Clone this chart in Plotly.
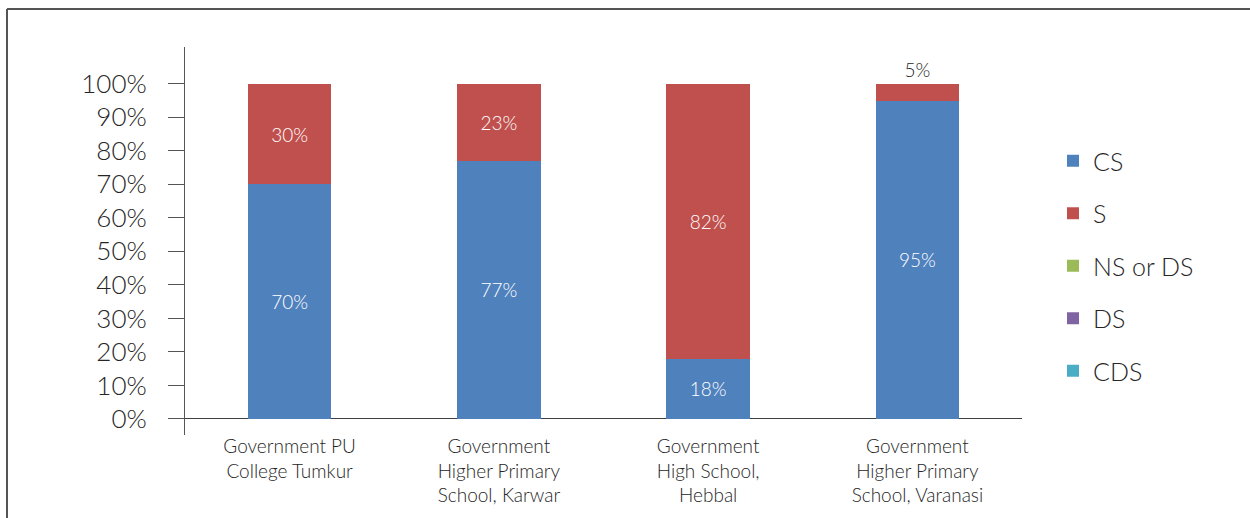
import plotly.graph_objects as go

# School categories (line breaks as printed under the axis)
schools = [
    "Government PU<br>College Tumkur",
    "Government<br>Higher Primary<br>School, Karwar",
    "Government<br>High School,<br>Hebbal",
    "Government<br>Higher Primary<br>School, Varanasi",
]

# Share of responses per category, in percent
cs = [70, 77, 18, 95]
s = [30, 23, 82, 5]
ns_or_ds = [0, 0, 0, 0]
ds = [0, 0, 0, 0]
cds = [0, 0, 0, 0]

y_ticks = [0, 10, 20, 30, 40, 50, 60, 70, 80, 90, 100]
y_tick_labels = [f"{v}%" for v in y_ticks]

FONT = "Lato, 'Open Sans', sans-serif"
WEIGHT = 300
TEXT = "#262626"
AXIS = "#555555"

series = [
    ("CS", cs, "#4F81BD"),
    ("S", s, "#C0504D"),
    ("NS or DS", ns_or_ds, "#9BBB59"),
    ("DS", ds, "#8064A2"),
    ("CDS", cds, "#4BACC6"),
]

fig = go.Figure()
for i, (name, vals, color) in enumerate(series):
    labels = [f"{v}%" if v > 0 else "" for v in vals]
    # small segments get their label above the bar
    positions = ["outside" if 0 < v < 10 else "inside" for v in vals]
    fig.add_trace(go.Bar(
        name=name,
        x=schools,
        y=vals,
        marker=dict(color=color, line=dict(width=0)),
        text=labels,
        textposition=positions,
        insidetextanchor="middle",
        insidetextfont=dict(color="white", size=19, family=FONT, weight=WEIGHT),
        outsidetextfont=dict(color=TEXT, size=19, family=FONT, weight=WEIGHT),
        cliponaxis=False,
        legendgroup=name,
        hoverinfo="x+y+name",
    ))

W, H = 1250, 518
L, R, T, B = 185, 228, 47, 83
pw, ph = W - L - R, H - T - B

def px_x(x):
    return (x - L) / pw

def px_y(y):
    return 1 - (y - T) / ph

fig.update_layout(
    width=W,
    height=H,
    margin=dict(l=L, r=R, t=T, b=B),
    barmode="stack",
    bargap=0.6,
    paper_bgcolor="white",
    plot_bgcolor="white",
    font=dict(family=FONT, color=TEXT, weight=WEIGHT),
    showlegend=True,
    legend=dict(
        x=px_x(1053),
        y=px_y(138),
        xanchor="left",
        yanchor="top",
        traceorder="grouped",
        tracegroupgap=17,
        font=dict(size=25, family=FONT, color=TEXT, weight=WEIGHT),
        bgcolor="rgba(0,0,0,0)",
    ),
    xaxis=dict(
        showline=False,
        showgrid=False,
        ticks="",
        tickfont=dict(size=19, family=FONT, color=TEXT, weight=WEIGHT),
        ticklabelstandoff=-2,
        range=[-0.5, 3.5],
    ),
    yaxis=dict(
        range=[-4.8, 111.0],
        tickvals=y_ticks,
        ticktext=y_tick_labels,
        showgrid=False,
        showline=True,
        linecolor=AXIS,
        linewidth=1,
        ticks="outside",
        ticklen=16,
        tickcolor=AXIS,
        tickwidth=1,
        ticklabelstandoff=16,
        zeroline=True,
        zerolinecolor="#404040",
        zerolinewidth=1,
        tickfont=dict(size=26, family=FONT, color=TEXT, weight=WEIGHT),
    ),
    shapes=[
        # outer frame (left and top edges)
        dict(type="line", xref="paper", yref="paper",
             x0=px_x(7), x1=px_x(7), y0=px_y(9), y1=px_y(530),
             line=dict(color="#555555", width=2)),
        dict(type="line", xref="paper", yref="paper",
             x0=px_x(7), x1=px_x(1260), y0=px_y(9), y1=px_y(9),
             line=dict(color="#555555", width=2)),
    ],
)

fig.write_html("out.html")
